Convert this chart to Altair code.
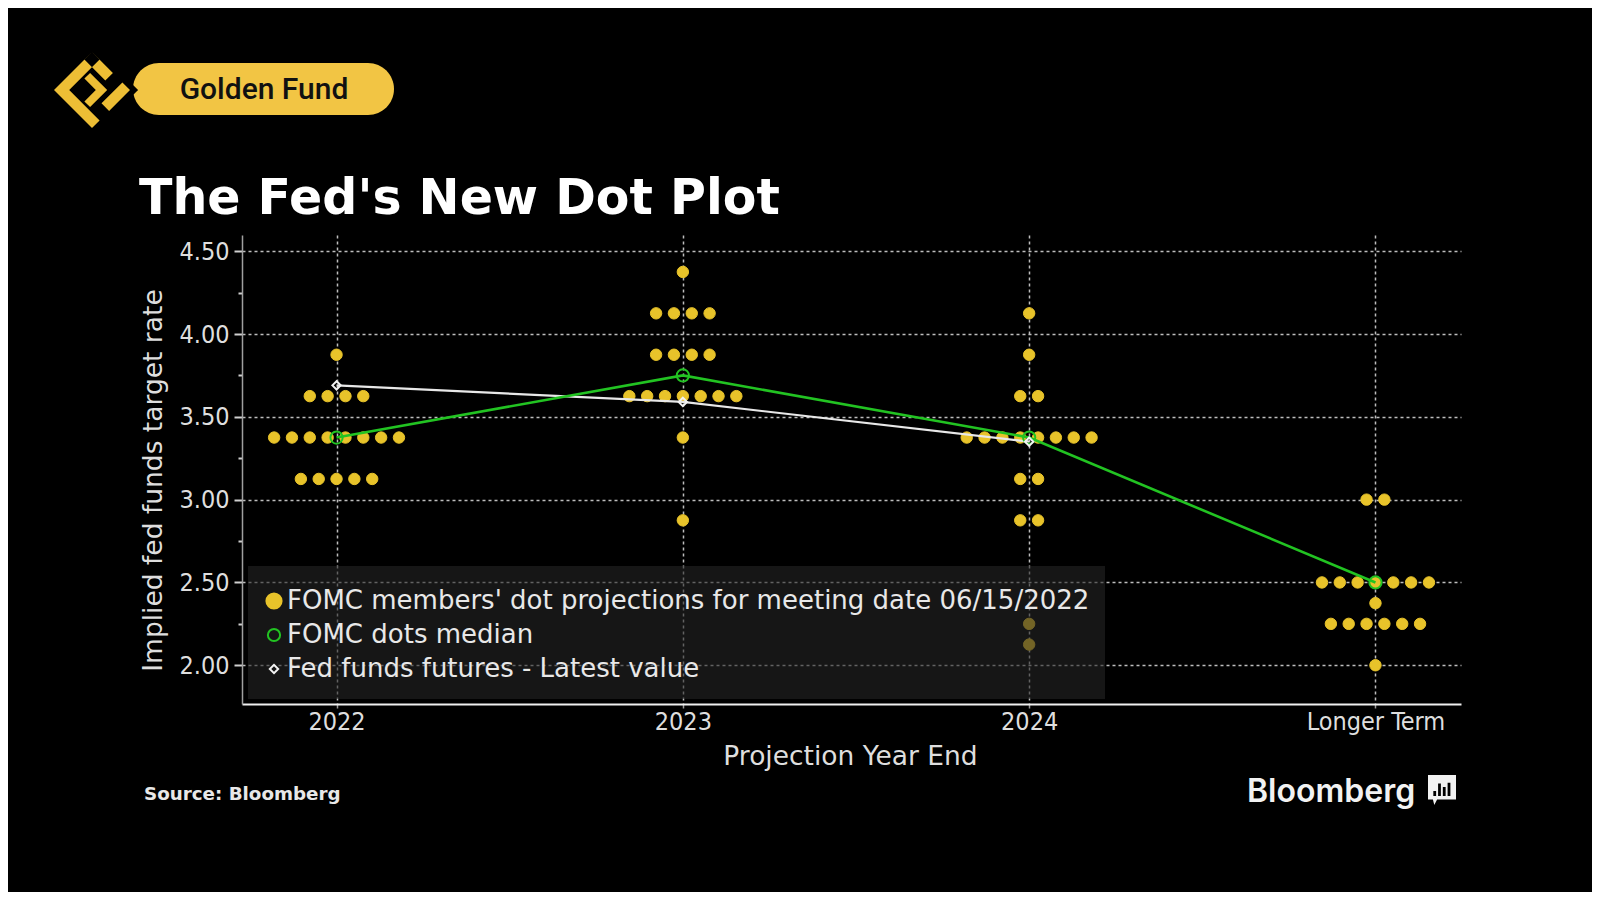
import altair as alt
import pandas as pd

# ---------------- data ----------------
years = ["2022", "2023", "2024", "Longer Term"]

rates_2022 = [3.875, 3.625, 3.375, 3.125]
counts_2022 = [1, 4, 8, 5]
rates_2023 = [4.375, 4.125, 3.875, 3.625, 3.375, 2.875]
counts_2023 = [1, 4, 4, 7, 1, 1]
rates_2024 = [4.125, 3.875, 3.625, 3.375, 3.125, 2.875, 2.25, 2.125]
counts_2024 = [1, 1, 2, 8, 2, 2, 1, 1]
rates_lt = [3.0, 2.5, 2.375, 2.25, 2.0]
counts_lt = [2, 7, 1, 6, 1]

median = [3.375, 3.75, 3.375, 2.5]
futures = [3.69, 3.59, 3.35]

series_names = [
    "FOMC members' dot projections for meeting date 06/15/2022",
    "FOMC dots median",
    "Fed funds futures - Latest value",
]
y_ticks = [2.0, 2.25, 2.5, 2.75, 3.0, 3.25, 3.5, 3.75, 4.0, 4.25, 4.5]

# ---------------- tables ----------------
STEP = 0.0515  # horizontal spacing of dots in a row (category units)
dot_rows = []
for i, (rates, counts) in enumerate(
    [(rates_2022, counts_2022), (rates_2023, counts_2023),
     (rates_2024, counts_2024), (rates_lt, counts_lt)]
):
    for r, c in zip(rates, counts):
        for k in range(c):
            dot_rows.append({"pos": i + (k - (c - 1) / 2) * STEP,
                             "rate": r, "series": series_names[0]})
dots_df = pd.DataFrame(dot_rows)

median_df = pd.DataFrame({"pos": list(range(len(median))), "rate": median,
                          "series": series_names[1]})
futures_df = pd.DataFrame({"pos": list(range(len(futures))), "rate": futures,
                           "series": series_names[2]})
markers_df = pd.concat([median_df, futures_df], ignore_index=True)
one = pd.DataFrame({"k": [0]})

# ---------------- styling ----------------
W, H = 1219, 469
YELLOW = "#E8C32A"
GREEN = "#22C322"
WHITE_LINE = "#E8E8E8"
TICK_FONT = "DejaVu Sans Condensed"
TEXT_FONT = "DejaVu Sans"
LABEL_COLOR = "#dedede"

x_enc = alt.X(
    "pos:Q",
    scale=alt.Scale(domain=[-0.273, 3.247], nice=False, zero=False),
    axis=alt.Axis(
        values=[0, 1, 2, 3],
        labelExpr=f"{years}[datum.value]",
        title="Projection Year End",
        titleX=608, titleY=52, titleAlign="center", titleBaseline="middle",
        titleFont=TEXT_FONT, titleFontSize=26.5, titleFontWeight="normal",
        titleColor=LABEL_COLOR,
        labelFont=TICK_FONT, labelFontSize=25, labelColor=LABEL_COLOR,
        labelPadding=1,
        grid=True, gridColor="#bdbdbd", gridDash=[3, 3], gridWidth=1.5,
        domainColor="#f0f0f0", domainWidth=2,
        tickColor="#9a9a9a", tickSize=4, tickWidth=1.5,
    ),
)

y_enc = alt.Y(
    "rate:Q",
    scale=alt.Scale(domain=[1.766, 4.598], nice=False, zero=False),
    axis=alt.Axis(
        values=y_ticks,
        labelExpr="datum.value % 0.5 == 0 ? format(datum.value, '.2f') : ''",
        title="Implied fed funds target rate",
        titleX=-89, titleY=245, titleAngle=270, titleAlign="center",
        titleBaseline="middle",
        titleFont=TEXT_FONT, titleFontSize=26.5, titleFontWeight="normal",
        titleColor=LABEL_COLOR,
        labelFont=TICK_FONT, labelFontSize=25, labelColor=LABEL_COLOR,
        labelPadding=5,
        grid=True, gridColor="#bdbdbd", gridDash=[3, 3], gridWidth=1.5,
        gridOpacity={"condition": {"test": "datum.value % 0.5 == 0", "value": 1}, "value": 0},
        tickSize={"condition": {"test": "datum.value % 0.5 == 0", "value": 8}, "value": 4},
        tickColor="#cfcfcf", tickWidth=2,
        domainColor="#a0a0a0", domainWidth=1.5,
    ),
)

legend = alt.Legend(
    title=None, orient="none", legendX=19, legendY=353,
    padding=0, rowPadding=8,
    labelFont=TEXT_FONT, labelFontSize=26, labelColor="#e8e8e8",
    labelLimit=1200, labelOffset=0, symbolStrokeWidth=2,
)

fill_enc = alt.Fill("series:N", legend=legend,
                    scale=alt.Scale(domain=series_names,
                                    range=[YELLOW, "transparent", "transparent"]))
stroke_enc = alt.Stroke("series:N", legend=legend,
                        scale=alt.Scale(domain=series_names,
                                        range=[YELLOW, GREEN, "#f2f2f2"]))
shape_enc = alt.Shape("series:N", legend=legend,
                      scale=alt.Scale(domain=series_names,
                                      range=["circle", "circle", "diamond"]))
size_enc = alt.Size("series:N", legend=legend,
                    scale=alt.Scale(domain=series_names, range=[230, 70, 50]))

dots = alt.Chart(dots_df).mark_point(filled=True, opacity=1, strokeWidth=1, size=130).encode(
    x=x_enc, y=y_enc, fill=fill_enc, stroke=stroke_enc, shape=shape_enc
)

futures_line = alt.Chart(futures_df).mark_line(color=WHITE_LINE, strokeWidth=2.2).encode(
    x=alt.X("pos:Q"), y=alt.Y("rate:Q")
)
median_line = alt.Chart(median_df).mark_line(color=GREEN, strokeWidth=2.6).encode(
    x=alt.X("pos:Q"), y=alt.Y("rate:Q")
)

markers = alt.Chart(markers_df).mark_point(filled=True, opacity=1, strokeWidth=2).encode(
    x=alt.X("pos:Q"), y=alt.Y("rate:Q"),
    fill=fill_enc, stroke=stroke_enc, shape=shape_enc, size=size_enc
)

legend_box = alt.Chart(one).mark_rect(color="rgba(36,36,36,0.6)").encode(
    x=alt.value(6), x2=alt.value(863), y=alt.value(331), y2=alt.value(464)
)

# ---------------- decorations ----------------
title = alt.Chart(one).mark_text(
    text="The Fed's New Dot Plot", align="left", baseline="alphabetic",
    font="DejaVu Sans", fontWeight="bold", fontSize=49, color="white"
).encode(x=alt.value(-103), y=alt.value(-21))

badge = alt.Chart(one).mark_rect(color="#F2C544", cornerRadius=26).encode(
    x=alt.value(-109), x2=alt.value(152), y=alt.value(-172), y2=alt.value(-120)
)
badge_cut = alt.Chart(one).mark_point(
    shape="M0,-1L1,0L0,1L-1,0Z", filled=True, color="black", opacity=1, size=8500
).encode(x=alt.value(-150), y=alt.value(-145))

LOGO_PATH = (
    "M0,-1L-1,0L0,1L0.2,0.8L-0.6,0L0.2,-0.8Z "
    "M0,-1L0.55,-0.45L0.35,-0.25L-0.2,-0.8Z "
    "M-0.05,-0.45L0.4,0L-0.05,0.45L-0.2,0.3L0.1,0L-0.2,-0.3Z "
    "M1,0L0.45,0.55L0.25,0.35L0.8,-0.2Z"
)
logo = alt.Chart(one).mark_point(
    shape=LOGO_PATH, filled=True, color="#EDBE35", opacity=1, size=5776
).encode(x=alt.value(-150), y=alt.value(-145))

badge_text = alt.Chart(one).mark_text(
    text="Golden Fund", align="center", baseline="middle",
    font="Roboto", fontWeight=500, fontSize=30, color="#111111"
).encode(x=alt.value(22), y=alt.value(-145))

source = alt.Chart(one).mark_text(
    text="Source: Bloomberg", align="left", baseline="middle",
    font="DejaVu Sans", fontWeight="bold", fontSize=18.3, color="#e8e8e8"
).encode(x=alt.value(-98), y=alt.value(560))

bbg_text = alt.Chart(one).mark_text(
    text="Bloomberg", align="left", baseline="alphabetic",
    font="Inter", fontWeight=600, fontSize=32, color="#f2f2f2"
).encode(x=alt.value(1005), y=alt.value(567))

BBG_ICON = (
    "M-1,-1H1V0.75H-0.35L-0.55,1.15L-0.65,0.75H-1Z "
    "M-0.62,0.5H-0.42V0.15H-0.62Z "
    "M-0.28,0.5H-0.08V-0.4H-0.28Z "
    "M0.06,0.5H0.26V-0.15H0.06Z "
    "M0.4,0.5H0.6V-0.45H0.4Z"
)
bbg_icon = alt.Chart(one).mark_point(
    shape=BBG_ICON, filled=True, color="#f2f2f2", opacity=1, size=784
).encode(x=alt.value(1200), y=alt.value(554))

chart = alt.layer(
    dots, futures_line, median_line, markers, legend_box,
    title, badge, badge_cut, logo, badge_text, source, bbg_text, bbg_icon
).properties(
    width=W, height=H,
    autosize=alt.AutoSizeParams(type="none"),
    padding={"left": 234, "top": 227, "right": 131, "bottom": 188},
    background="black",
).configure_view(stroke=None)

chart.save("out.html", embed_options={"renderer": "svg", "actions": False})
